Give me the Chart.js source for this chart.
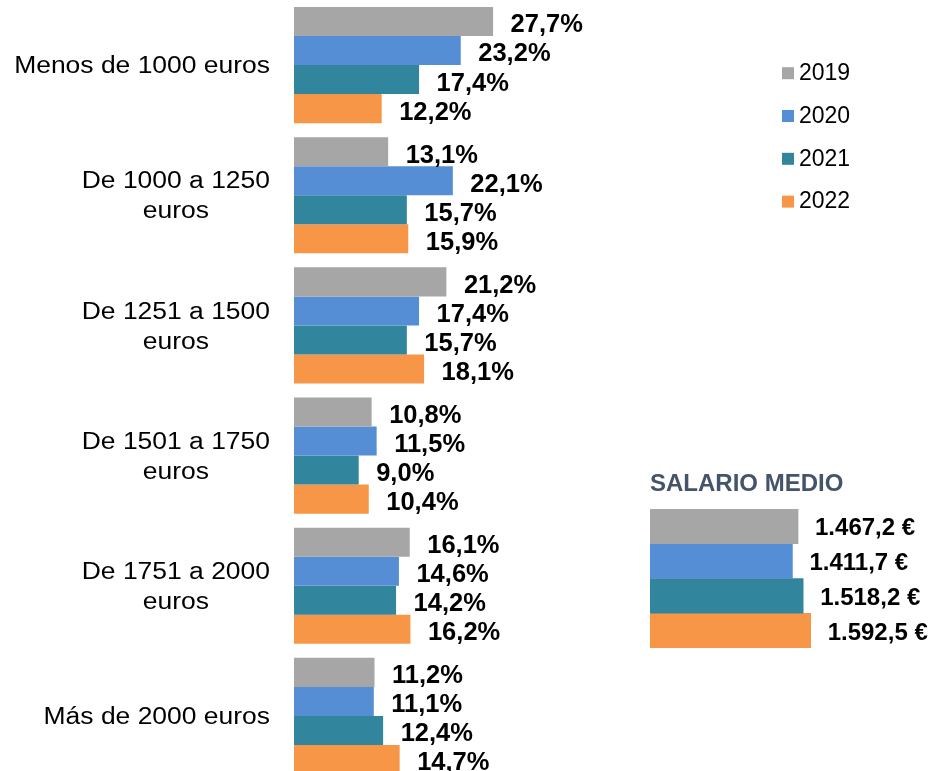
<!DOCTYPE html>
<html>
<head>
<meta charset="utf-8">
<title>Salario por tramos</title>
<script src="https://cdn.jsdelivr.net/npm/chart.js@4"></script>
<style>
  html, body { margin: 0; padding: 0; background: #fff; overflow: hidden; }
  #tramos { position: absolute; left: 0; top: 0; }
  #salario { position: absolute; left: 640px; top: 460px; }
</style>
</head>
<body>
<canvas id="tramos" width="936" height="781"></canvas>
<canvas id="salario" width="296" height="200"></canvas>
<script>
const tramos = [
  'Menos de 1000 euros',
  ['De 1000 a 1250', 'euros'],
  ['De 1251 a 1500', 'euros'],
  ['De 1501 a 1750', 'euros'],
  ['De 1751 a 2000', 'euros'],
  'Más de 2000 euros',
];
const years = ['2019', '2020', '2021', '2022'];
const colors = ['#A6A6A6', '#558ED5', '#31859C', '#F79646'];

const pct2019 = [27.7, 13.1, 21.2, 10.8, 16.1, 11.2];
const pct2020 = [23.2, 22.1, 17.4, 11.5, 14.6, 11.1];
const pct2021 = [17.4, 15.7, 15.7, 9.0, 14.2, 12.4];
const pct2022 = [12.2, 15.9, 18.1, 10.4, 16.2, 14.7];
const pctByYear = [pct2019, pct2020, pct2021, pct2022];

const salarioMedio = [1467.2, 1411.7, 1518.2, 1592.5];

const FONT = '"Liberation Sans", Arial, sans-serif';

function fmtPct(v) {
  return v.toFixed(1).replace('.', ',') + '%';
}
function fmtEur(v) {
  const parts = v.toFixed(1).split('.');
  return parts[0].replace(/\B(?=(\d{3})+(?!\d))/g, '.') + ',' + parts[1] + ' €';
}

// bold value next to the end of each bar
function valueLabels(format, size, gap, dy) {
  return {
    id: 'valueLabels',
    afterDatasetsDraw(chart) {
      const ctx = chart.ctx;
      ctx.save();
      ctx.font = 'bold ' + size + 'px ' + FONT;
      ctx.fillStyle = '#000';
      ctx.textAlign = 'left';
      ctx.textBaseline = 'alphabetic';
      chart.data.datasets.forEach((ds, i) => {
        chart.getDatasetMeta(i).data.forEach((bar, j) => {
          ctx.fillText(format(ds.data[j]), bar.x + gap, bar.y + 0.358 * size + dy);
        });
      });
      ctx.restore();
    }
  };
}

// category names (lines centred on each other, block right aligned) + legend
const sideText = {
  id: 'sideText',
  afterDraw(chart) {
    const ctx = chart.ctx;
    const yScale = chart.scales.y;
    ctx.save();
    ctx.fillStyle = '#000';
    ctx.font = '23px ' + FONT;
    chart.data.labels.forEach((lab, i) => {
      const lines = Array.isArray(lab) ? lab : [lab];
      const cy = yScale.getPixelForValue(i);
      const w = Math.max(...lines.map(l => ctx.measureText(l).width));
      lines.forEach((l, k) => {
        const capC = cy + (k - (lines.length - 1) / 2) * 30;
        ctx.save();
        ctx.translate(270, capC + 0.358 * 23);
        ctx.scale(1.15, 1);
        ctx.textAlign = 'center';
        ctx.fillText(l, -w / 2, 0);
        ctx.restore();
      });
    });

    // legend
    ctx.textAlign = 'left';
    chart.data.datasets.forEach((ds, i) => {
      const capC = 71.7 + 42.8 * i;
      ctx.fillStyle = ds.backgroundColor;
      ctx.fillRect(782, capC - 4.5, 12, 12);
      ctx.fillStyle = '#000';
      ctx.fillText(ds.label, 799, capC + 0.358 * 23);
    });
    ctx.restore();
  }
};

new Chart(document.getElementById('tramos'), {
  type: 'bar',
  data: {
    labels: tramos,
    datasets: years.map((y, i) => ({
      label: y,
      data: pctByYear[i],
      backgroundColor: colors[i],
      borderWidth: 0,
      categoryPercentage: 0.892,
      barPercentage: 1,
    })),
  },
  options: {
    indexAxis: 'y',
    responsive: false,
    animation: false,
    layout: { padding: { left: 294, right: 297, top: 0, bottom: 0 } },
    scales: {
      x: { display: false, min: 0, max: 48 },
      y: { display: false },
    },
    plugins: {
      legend: { display: false },
      tooltip: { enabled: false },
    },
  },
  plugins: [valueLabels(fmtPct, 25.5, 17.5, 1.8), sideText],
});

new Chart(document.getElementById('salario'), {
  type: 'bar',
  data: {
    labels: ['Salario medio'],
    datasets: years.map((y, i) => ({
      label: y,
      data: [salarioMedio[i]],
      backgroundColor: colors[i],
      borderWidth: 0,
      categoryPercentage: 1,
      barPercentage: 1,
    })),
  },
  options: {
    indexAxis: 'y',
    responsive: false,
    animation: false,
    layout: { padding: { left: 10, right: 0, top: 0, bottom: 12 } },
    scales: {
      x: { display: false, min: 0, max: 2835 },
      y: { display: false },
    },
    plugins: {
      legend: { display: false },
      tooltip: { enabled: false },
      title: {
        display: true,
        text: 'SALARIO MEDIO',
        align: 'start',
        color: '#44546A',
        font: { family: FONT, size: 24, weight: 'bold' },
        padding: { top: 10, bottom: 10.2 },
      },
    },
  },
  plugins: [valueLabels(fmtEur, 24, 17, 0.5)],
});
</script>
</body>
</html>
